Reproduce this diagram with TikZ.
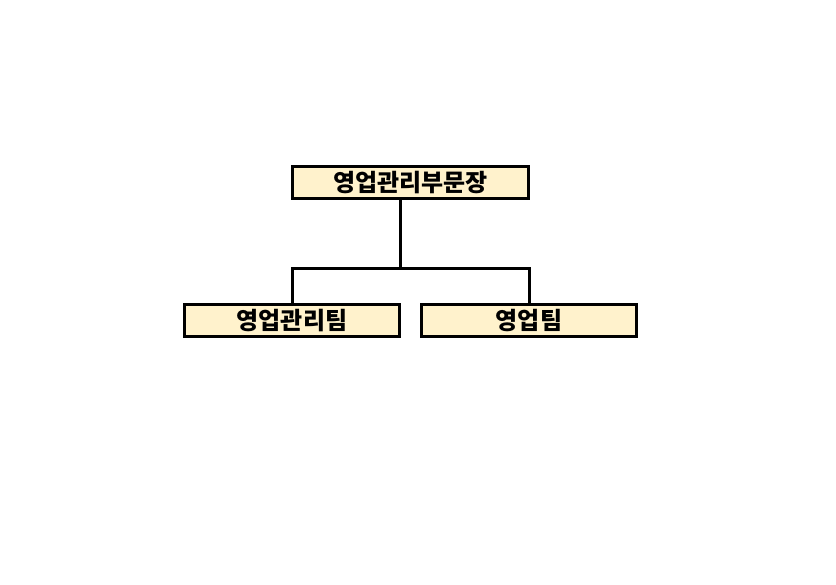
\documentclass[tikz,border=0pt]{standalone}
\usepackage{fontspec}
\newfontfamily\kofont{Noto Sans CJK KR}
\usepackage{tikz}
\definecolor{boxfill}{HTML}{FFF2CC}

\begin{document}
\begin{tikzpicture}[x=1pt, y=-1pt,
  every node/.style={font=\kofont\bfseries\fontsize{24}{28}\selectfont},
  orgbox/.style={draw, line width=2.6pt, fill=boxfill, inner sep=0pt,
    minimum height=32pt, text=black},
  link/.style={line width=3pt}]

\useasboundingbox (0,0) rectangle (836,585);

% boxes
\node[orgbox, minimum width=236pt] (head) at (410.5,182.5) {영업관리부문장};
\node[orgbox, minimum width=215pt] (admteam) at (292,320.5) {영업관리팀};
\node[orgbox, minimum width=215pt] (salesteam) at (529,320.5) {영업팀};

% connectors
\coordinate (fork) at (400,269);
\draw[link] (fork |- head.south) -- (fork);
\draw[link] (admteam.north) |- (fork) -| (salesteam.north);

\end{tikzpicture}
\end{document}
